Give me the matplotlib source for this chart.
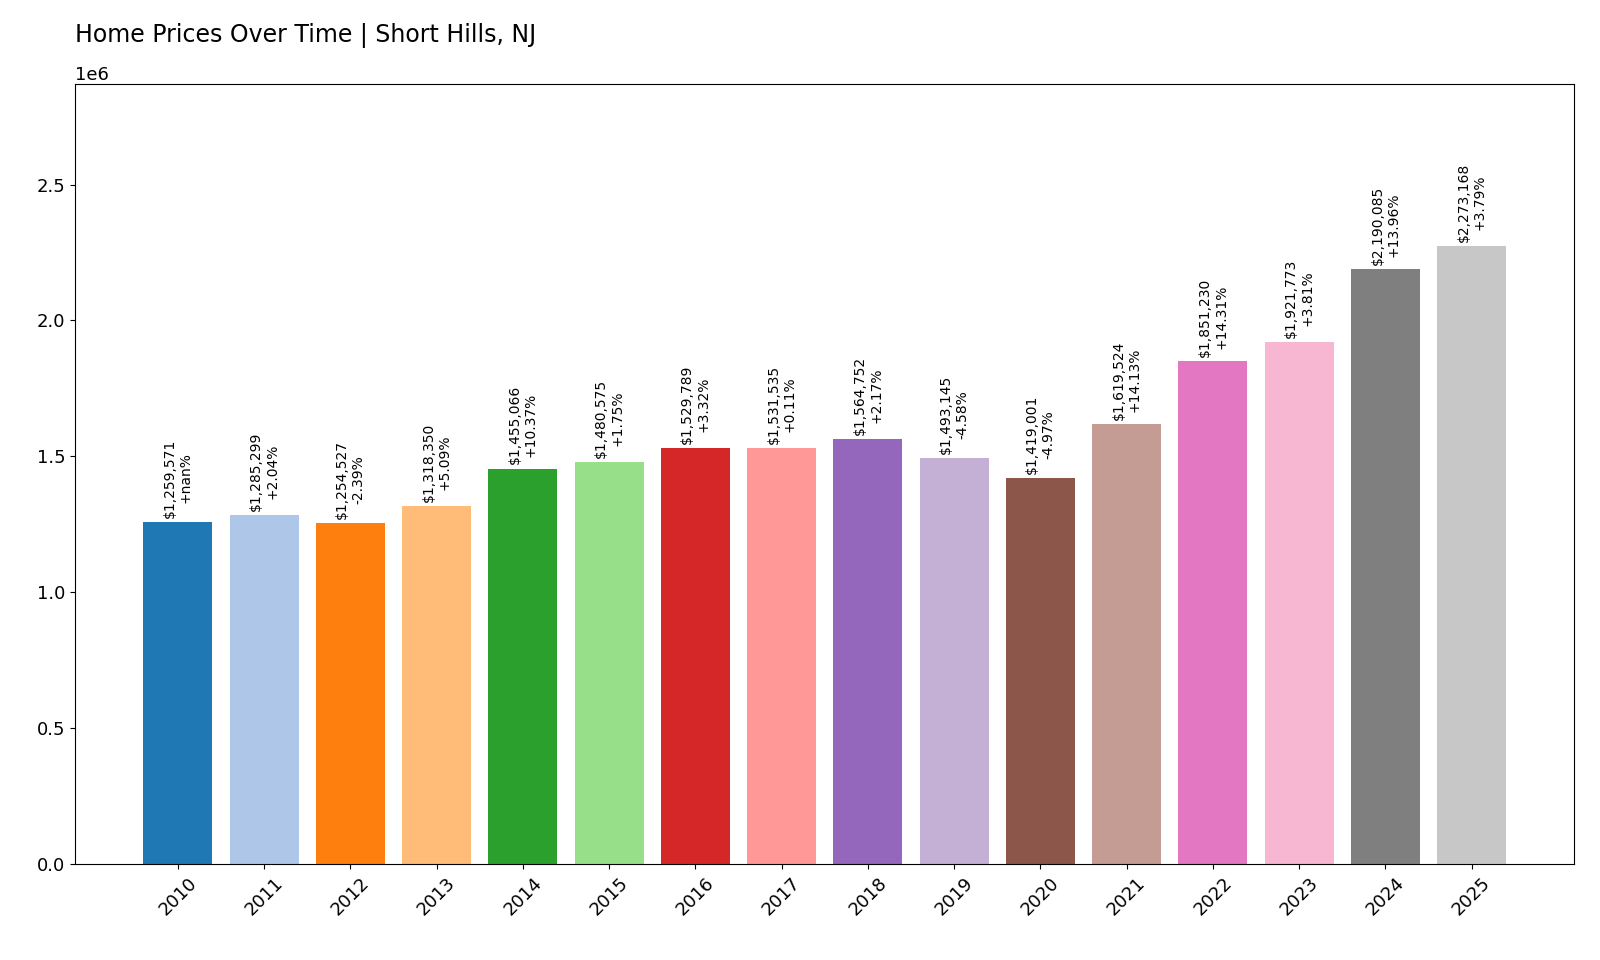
import matplotlib
matplotlib.use("Agg")
import matplotlib.pyplot as plt

years = [str(y) for y in range(2010, 2026)]
prices = [1259571, 1285299, 1254527, 1318350, 1455066, 1480575, 1529789, 1531535,
          1564752, 1493145, 1419001, 1619524, 1851230, 1921773, 2190085, 2273168]
changes = ["+nan%", "+2.04%", "-2.39%", "+5.09%", "+10.37%", "+1.75%", "+3.32%", "+0.11%",
           "+2.17%", "-4.58%", "-4.97%", "+14.13%", "+14.31%", "+3.81%", "+13.96%", "+3.79%"]

colors = plt.cm.tab20.colors
fig = plt.figure(figsize=(16, 9.6), dpi=100)
ax = fig.add_axes([0.047, 0.10, 0.937, 0.8125])
x = range(len(years))
ax.bar(x, prices, color=[colors[i % 20] for i in x])
for i, (p, c) in enumerate(zip(prices, changes)):
    ax.text(i, p + 15000, f"${p:,}\n{c}", rotation=90, ha="center", va="bottom", fontsize=10)
ax.set_xticks(list(x))
ax.set_xticklabels(years, rotation=45, fontsize=13)
ax.tick_params(axis="y", labelsize=13)
ax.yaxis.get_offset_text().set_fontsize(13)
ax.set_ylim(0, 2.87e6)
ax.set_title("Home Prices Over Time | Short Hills, NJ", loc="left", fontsize=17, pad=30)
fig.savefig("out.png")
